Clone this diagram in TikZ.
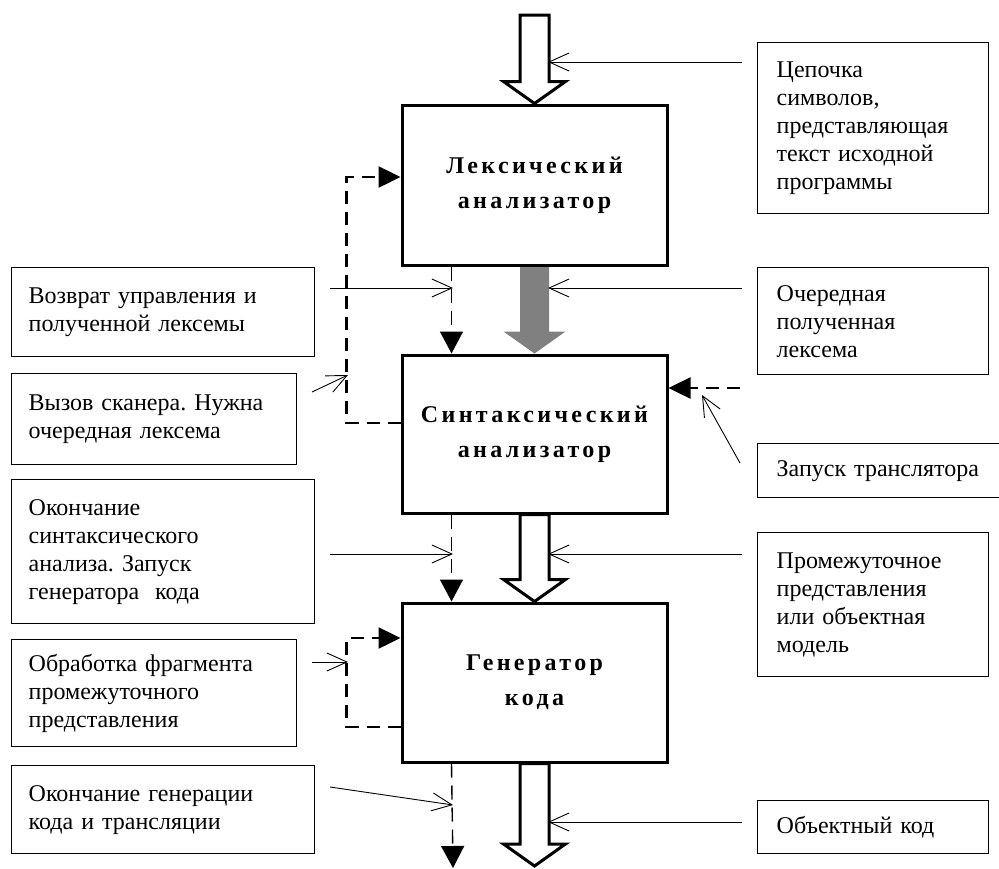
\documentclass[tikz,border=0pt]{standalone}
\usepackage{fontspec}
\setmainfont{Liberation Serif}
\newfontfamily\mainboxfont[LetterSpace=14]{Liberation Serif}
\usetikzlibrary{arrows.meta,calc,backgrounds}
\frenchspacing
\newcommand\FatArr[3]{%
  \draw[#1] ($(#2)+(-14.5,0)$) -- ($(#2)+(14.5,0)$) -- ($(#3)+(14.5,-22)$) -- ($(#3)+(31,-22)$)
    -- (#3) -- ($(#3)+(-31,-22)$) -- ($(#3)+(-14.5,-22)$) -- cycle;}
\begin{document}
\begin{tikzpicture}[x=1pt,y=-1pt,
  mainbox/.style={draw, line width=3pt, minimum width=265pt, align=center,
    font=\mainboxfont\bfseries\fontsize{24}{35}\selectfont, inner sep=0pt},
  sidebox/.style={draw, line width=1.4pt, align=left, anchor=north west,
    font=\fontsize{24}{28}\selectfont, inner xsep=17pt, inner ysep=0pt},
  rbox/.style={sidebox, inner xsep=19pt},
  fat/.style={draw, line width=3pt, fill=white, line join=miter},
  greyfat/.style={fill=gray, draw=none},
  thinarr/.style={line width=0.9pt, -{Straight Barb[length=20pt,width=18pt,line width=0.9pt]}},
  ctrl/.style={line width=1.4pt, dash pattern=on 14pt off 8pt, -{Triangle[length=22pt,width=23pt]}},
  loopctl/.style={line width=2.5pt, dash pattern=on 13pt off 8pt, -{Triangle[length=22pt,width=21pt]}},
]
\useasboundingbox (0,0) rectangle (999,868);
\clip (0,0) rectangle (999,868);

% main boxes
\node[mainbox, minimum height=160pt] (lex) at (534.5,185) {\rule{0pt}{10pt}Лексический\\анализатор};
\node[mainbox, minimum height=158pt] (syn) at (534.5,434) {\rule{0pt}{10pt}Синтаксический\\анализатор};
\node[mainbox, minimum height=159pt] (gen) at (534.5,682.5) {\rule{0pt}{10pt}Генератор\\кода};

% right boxes
\node[rbox, text width=193pt, minimum height=171pt] (r1) at (757,42)
  {Цепочка\\символов,\\представляющая\\текст исходной\\программы};
\node[rbox, text width=193pt, minimum height=107pt] (r2) at (757,267)
  {Очередная\\полученная\\лексема};
\node[rbox, text width=222pt, minimum height=54pt] (r3) at (757,443)
  {Запуск транслятора};
\node[rbox, text width=193pt, minimum height=144pt] (r4) at (757,532)
  {Промежуточное\\представления\\или объектная\\модель};
\node[rbox, text width=193pt, minimum height=53pt] (r5) at (757,800)
  {Объектный код};

% left boxes
\node[sidebox, text width=269pt, minimum height=89pt] (lA) at (11,267)
  {Возврат управления и\\полученной лексемы};
\node[sidebox, text width=251pt, minimum height=91pt] (lB) at (11,373)
  {Вызов сканера. Нужна\\очередная лексема};
\node[sidebox, text width=269pt, minimum height=144pt] (lC) at (11,479)
  {Окончание\\синтаксического\\анализа. Запуск\\генератора~~кода};
\node[sidebox, text width=251pt, minimum height=107pt] (lD) at (11,639)
  {Обработка фрагмента\\промежуточного\\представления};
\node[sidebox, text width=269pt, minimum height=88pt] (lE) at (11,765)
  {Окончание генерации\\кода и трансляции};

% coordinates
\coordinate (fin) at (534.5,15);
\coordinate (fout) at (534.5,866);
\coordinate (dout) at (453,868);
\coordinate (rd) at (740,388);
\coordinate (t1) at (742,62);  \coordinate (h1) at (548,62);
\coordinate (t2) at (742,288); \coordinate (h2) at (548,288);
\coordinate (t3) at (740,463); \coordinate (h3) at (702,395);
\coordinate (t4) at (742,554); \coordinate (h4) at (548,554);
\coordinate (t5) at (742,822); \coordinate (h5) at (548,822);
\coordinate (tA) at (330,288); \coordinate (hA) at (453,288);
\coordinate (tB) at (312,392); \coordinate (hB) at (348,375);
\coordinate (tC) at (330,554); \coordinate (hC) at (453,554);
\coordinate (tD) at (312,662); \coordinate (hD) at (348,662);
\coordinate (tE) at (330,787); \coordinate (hE) at (453,805);

% fat data arrows
\begin{scope}[on background layer]
\FatArr{fat}{fin}{lex.north}
\FatArr{greyfat}{lex.south}{syn.north}
\FatArr{fat}{syn.south}{gen.north}
\FatArr{fat}{gen.south}{fout}
\end{scope}

% control flow (dashed)
\draw[ctrl] ($(lex.south west)+(51,0)$) -- ($(syn.north west)+(51,0)$);
\draw[ctrl] ($(syn.south west)+(51,0)$) -- ($(gen.north west)+(51,0)$);
\draw[ctrl] ($(gen.south west)+(51,0)$) -- (dout);
\draw[loopctl] ($(syn.west)+(0,-11)$) -- ++(-54,0) |- ($(lex.west)+(0,-8)$);
\draw[loopctl] ($(gen.west)+(0,44.5)$) -- ++(-54,0) |- ($(gen.west)+(0,-44.5)$);
\draw[loopctl] (rd) -- (rd -| syn.east);

% thin label arrows
\foreach \t/\h in {t1/h1,t2/h2,t3/h3,t4/h4,t5/h5,tA/hA,tB/hB,tC/hC,tD/hD,tE/hE}
  \draw[thinarr] (\t) -- (\h);
\end{tikzpicture}
\end{document}
